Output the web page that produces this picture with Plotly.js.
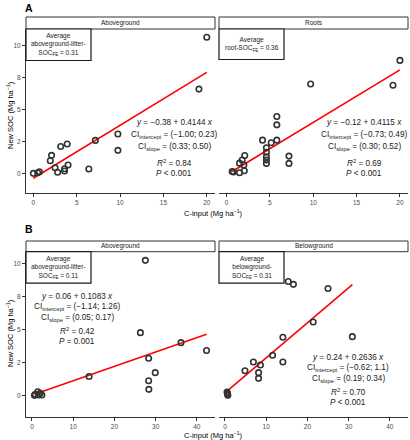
<!DOCTYPE html>
<html><head><meta charset="utf-8">
<script src="https://cdn.plot.ly/plotly-3.0.1.min.js"></script>
<style>html,body{margin:0;padding:0;background:#fff}</style>
</head><body><div id="chart" style="width:410px;height:440px"></div>
<script>
// ---- Data ----
const aboveA_x = [0, 0.5, 0.7, 1.95, 2.1, 2.5, 2.8, 3.15, 3.9, 3.6, 3.6, 4.0, 6.4, 7.15, 9.75, 9.75, 19.1, 20];
const aboveA_y = [0, 0.05, 0.12, 0.99, 1.41, 0.44, 0.08, 2.1, 2.3, 0.36, 0.18, 0.65, 0.34, 2.58, 3.08, 1.8, 6.6, 10.66];
const rootsA_x = [0.65, 0.8, 1.5, 1.5, 1.8, 2.1, 2.0, 2.05, 4.15, 4.6, 4.6, 4.6, 4.6, 4.6, 5.15, 5.8, 5.8, 5.8, 7.2, 7.2, 9.7, 19.2, 20];
const rootsA_y = [0.15, 0.1, 0.05, 0.8, 1.05, 1.4, 0.65, 0.2, 2.6, 2.0, 1.65, 1.3, 1.05, 0.78, 2.4, 2.6, 3.8, 4.45, 1.35, 0.78, 7.0, 6.9, 8.85];
const aboveB_x = [0.6, 0.8, 1.4, 1.6, 2.0, 2.4, 13.85, 26.3, 27.5, 28.3, 28.3, 28.35, 29.9, 36.15, 42.35];
const aboveB_y = [0.05, 0.13, 0.32, 0.08, 0.2, 0.08, 1.47, 4.77, 10.22, 2.84, 1.15, 0.5, 1.76, 4.02, 3.43];
const belowB_x = [0.5, 0.6, 0.7, 0.6, 4.85, 6.9, 8.15, 8.15, 8.6, 11.55, 14.05, 14.05, 15.35, 16.6, 21.4, 25.0, 30.9];
const belowB_y = [0.3, 0.15, 0.05, 0.2, 1.9, 2.56, 1.76, 1.33, 2.33, 3.07, 4.42, 2.56, 8.62, 8.41, 5.57, 8.1, 4.47];

const panelNames = ["Aboveground", "Roots", "Aboveground", "Belowground"];
const intercepts = [-0.38, -0.12, 0.06, 0.24];
const slopes = [0.4144, 0.4115, 0.1083, 0.2636];
const ciIntercept = ["(\u22121.00; 0.23)", "(\u22120.73; 0.49)", "(\u22121.14; 1.26)", "(\u22120.62; 1.1)"];
const ciSlope = ["(0.33; 0.50)", "(0.30; 0.52)", "(0.05; 0.17)", "(0.19; 0.34)"];
const r2Text = ["0.84", "0.69", "0.42", "0.70"];
const pText = ["< 0.001", "< 0.001", "= 0.001", "< 0.001"];
const socFE = ["0.31", "0.36", "0.11", "0.31"];
const boxLabels = ["Average<br>aboveground-litter-<br>SOC<sub>FE</sub> = ", "Average<br>root-SOC<sub>FE</sub> = ",
                   "Average<br>aboveground-litter-<br>SOC<sub>FE</sub> = ", "Average<br>belowground-<br>SOC<sub>FE</sub> = "];
const yTickVals = [0, 2.5, 5, 7.5, 10];
const yTickText = ["0", "2", "5", "8", "10"];
const xTickA = [0, 5, 10, 15, 20];
const xTickB = [0, 10, 20, 30, 40];

// ---- Geometry helpers (pixel -> paper) ----
const W = 410, H = 440;
const px = v => v / W;
const py = v => 1 - v / H;
const fmt = v => (v < 0 ? "\u2212" + Math.abs(v).toFixed(2) : v.toFixed(2));

const xs = [aboveA_x, rootsA_x, aboveB_x, belowB_x];
const ys = [aboveA_y, rootsA_y, aboveB_y, belowB_y];
const axIds = ["", "2", "3", "4"];

const traces = [];
for (let i = 0; i < 4; i++) {
  const xmin = Math.min(...xs[i]), xmax = Math.max(...xs[i]);
  traces.push({
    x: [xmin, xmax], y: [intercepts[i] + slopes[i] * xmin, intercepts[i] + slopes[i] * xmax],
    mode: "lines", line: {color: "#ff0000", width: 1.6},
    xaxis: "x" + axIds[i], yaxis: "y" + axIds[i], hoverinfo: "skip"
  });
  traces.push({
    x: xs[i], y: ys[i], mode: "markers",
    marker: {symbol: "circle-open", size: 5.5, color: "#333", line: {width: 1.6, color: "#333"}},
    xaxis: "x" + axIds[i], yaxis: "y" + axIds[i]
  });
}

// panel pixel boxes: [left, right, top, bottom]
const boxes = [[26, 215, 29, 193], [219, 408, 29, 193], [26, 215, 251.7, 416.7], [219, 408, 251.7, 416.7]];
const stripTop = [17, 17, 241, 241];
const xRanges = [[-0.85, 20.95], [-0.87, 20.93], [-1.45, 44.4], [-1.45, 44.4]];
const yRanges = [[-1.54, 11.31], [-1.54, 11.31], [-1.56, 10.87], [-1.56, 10.87]];

const baseAxis = {
  showgrid: false, zeroline: false, showline: true, linecolor: "#333", linewidth: 1,
  ticks: "outside", ticklen: 3, tickcolor: "#333", tickwidth: 1,
  tickfont: {size: 6.5, color: "#4d4d4d", family: "Liberation Sans, Arial, sans-serif"},
  fixedrange: true
};

const layout = {
  width: W, height: H, margin: {l: 0, r: 0, t: 0, b: 0},
  paper_bgcolor: "#fff", plot_bgcolor: "rgba(0,0,0,0)", showlegend: false,
  font: {family: "Liberation Sans, Arial, sans-serif", color: "#1a1a1a"},
  shapes: [], annotations: []
};

for (let i = 0; i < 4; i++) {
  const [l, r, t, b] = boxes[i];
  const xa = Object.assign({}, baseAxis, {
    domain: [px(l), px(r)], range: xRanges[i],
    tickvals: i < 2 ? xTickA : xTickB, anchor: "y" + axIds[i]
  });
  const ya = Object.assign({}, baseAxis, {
    domain: [py(b), py(t)], range: yRanges[i],
    tickvals: yTickVals, ticktext: yTickText, anchor: "x" + axIds[i]
  });
  if (i % 2 === 1) { ya.showline = false; ya.ticks = ""; ya.showticklabels = false; }
  layout["xaxis" + axIds[i]] = xa;
  layout["yaxis" + axIds[i]] = ya;

  // strip
  layout.shapes.push({type: "rect", xref: "paper", yref: "paper", x0: px(l), x1: px(r), y0: py(t), y1: py(stripTop[i]),
    line: {color: "#333", width: 1}, fillcolor: "#fff"});
  layout.annotations.push({xref: "paper", yref: "paper", x: px((l + r) / 2), y: py((t + stripTop[i]) / 2),
    text: panelNames[i], showarrow: false, xanchor: "center", yanchor: "middle", font: {size: 6.5, color: "#1a1a1a"}});

  // average box
  const bx0 = l, bx1 = l + 65;
  const by0 = t, by1 = i === 1 ? t + 30.5 : t + 31.5;
  layout.shapes.push({type: "rect", xref: "paper", yref: "paper", x0: px(bx0), x1: px(bx1), y0: py(by1), y1: py(by0),
    line: {color: "#1a1a1a", width: 1.2}, fillcolor: "#fff"});
  layout.annotations.push({xref: "paper", yref: "paper", x: px((bx0 + bx1) / 2), y: py((by0 + by1) / 2),
    text: boxLabels[i] + socFE[i], showarrow: false, xanchor: "center", yanchor: "middle", align: "center",
    font: {size: 6.5, color: "#1a1a1a"}});
}

// equation blocks
const eqCenters = [174, 364, 77, 348];
const eqRows = [[122.7, 135, 147, 162.7, 173.7], [122.7, 135, 147, 162.7, 173.7],
                [296, 306.5, 317.7, 331, 341.7], [357.7, 367.7, 378.7, 391.7, 402.3]];
for (let i = 0; i < 4; i++) {
  const lines = [
    "<i>y</i> = " + fmt(intercepts[i]) + " + " + slopes[i].toFixed(4) + " <i>x</i>",
    "CI<sub>intercept</sub> = " + ciIntercept[i],
    "CI<sub>slope</sub> = " + ciSlope[i],
    "<i>R</i><sup>2</sup> = " + r2Text[i],
    "<i>P</i> " + pText[i]
  ];
  lines.forEach((txt, k) => {
    layout.annotations.push({xref: "paper", yref: "paper", x: px(eqCenters[i]), y: py(eqRows[i][k]),
      text: txt, showarrow: false, xanchor: "center", yanchor: "middle", font: {size: 8.2, color: "#1a1a1a"}});
  });
}

// panel letters
layout.annotations.push({xref: "paper", yref: "paper", x: px(23), y: py(8), text: "<b>A</b>", showarrow: false,
  xanchor: "left", yanchor: "middle", font: {size: 10.5, color: "#000"}});
layout.annotations.push({xref: "paper", yref: "paper", x: px(23), y: py(229), text: "<b>B</b>", showarrow: false,
  xanchor: "left", yanchor: "middle", font: {size: 10.5, color: "#000"}});

// axis titles
const yTitle = "New SOC (Mg ha<sup>\u22121</sup>)";
const xTitle = "C-input (Mg ha<sup>\u22121</sup>)";
[115, 333].forEach(yy => {
  layout.annotations.push({xref: "paper", yref: "paper", x: px(10), y: py(yy), text: yTitle, textangle: -90,
    showarrow: false, xanchor: "center", yanchor: "middle", font: {size: 7.5, color: "#000"}});
});
[213, 435].forEach(yy => {
  layout.annotations.push({xref: "paper", yref: "paper", x: px(213), y: py(yy), text: xTitle,
    showarrow: false, xanchor: "center", yanchor: "middle", font: {size: 7.5, color: "#000"}});
});

Plotly.newPlot("chart", traces, layout, {staticPlot: true, displayModeBar: false});
</script>
</body></html>
